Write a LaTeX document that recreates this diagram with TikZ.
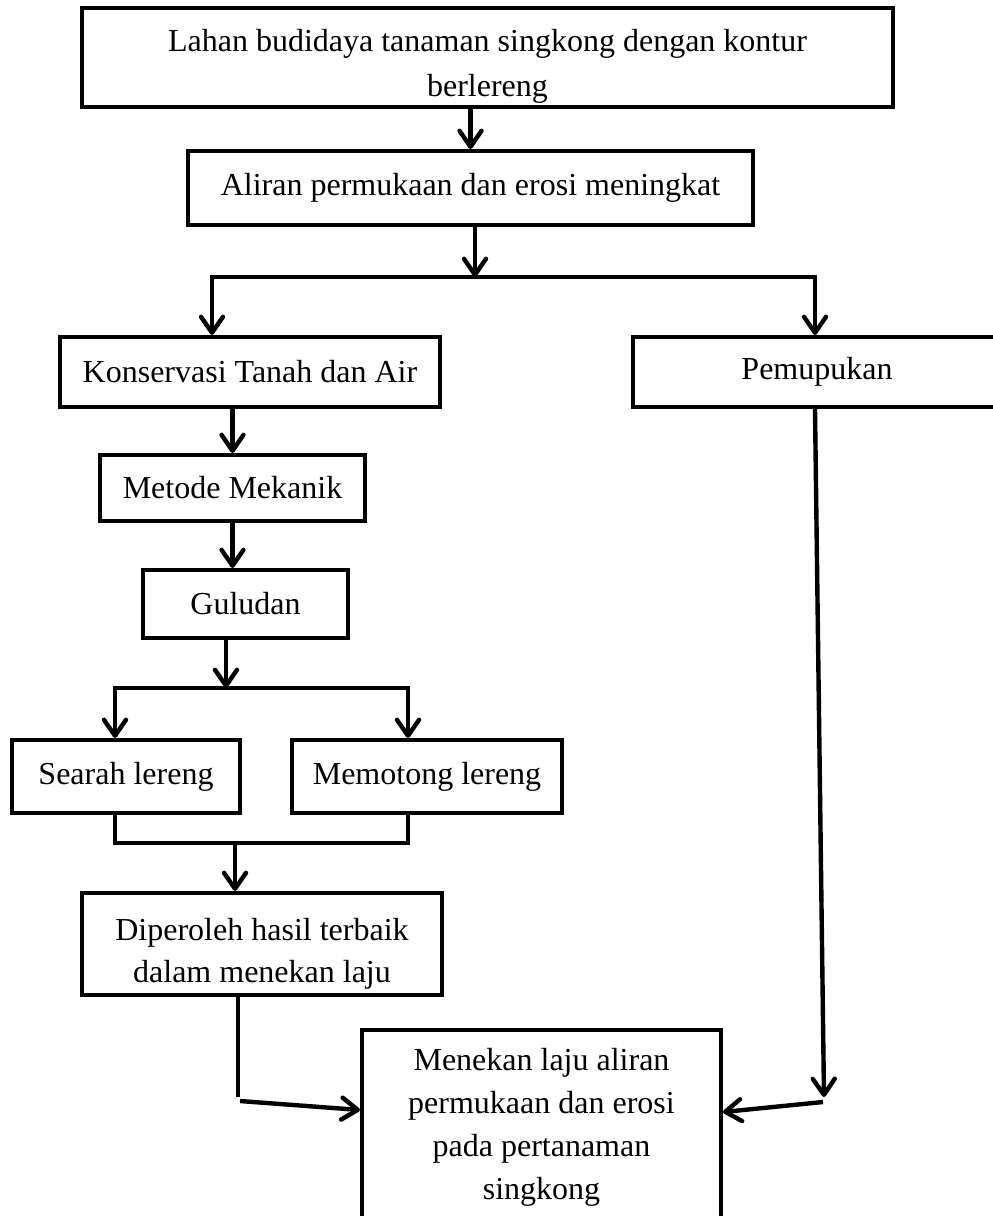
\documentclass[tikz,border=0pt]{standalone}
\usepackage{fontspec}
\setmainfont{Liberation Serif}
\usetikzlibrary{arrows.meta}

\begin{document}
\begin{tikzpicture}[x=0.5pt, y=-0.5pt,
    kotak/.style={draw, line width=2pt, inner sep=0pt, align=center, font=\fontsize{16}{21}\selectfont},
    garis/.style={line width=2.2pt},
    >={Straight Barb[length=8pt, width=11pt, round]}]
    \useasboundingbox (0,0) rectangle (992,1216);

    % kotak
    \node [kotak, minimum width=405.5pt, minimum height=49.5pt] (lahan) at (487.5, 57.5) {\rule{0pt}{20pt}Lahan budidaya tanaman singkong dengan kontur\\[1.5pt]berlereng};
    \node [kotak, minimum width=282.5pt, minimum height=37pt] (aliran) at (470.5, 188) {Aliran permukaan dan erosi meningkat};
    \node [kotak, minimum width=190pt, minimum height=35pt] (konservasi) at (250, 372) {Konservasi Tanah dan Air};
    \node [kotak, minimum width=184pt, minimum height=35pt] (pemupukan) at (817, 372) {Pemupukan};
    \node [kotak, minimum width=132.5pt, minimum height=33pt] (metode) at (232.5, 488) {Metode Mekanik};
    \node [kotak, minimum width=102.5pt, minimum height=34pt] (guludan) at (245.5, 604) {Guludan};
    \node [kotak, minimum width=114pt, minimum height=36.5pt] (searah) at (126, 776.5) {Searah lereng};
    \node [kotak, minimum width=135pt, minimum height=36.5pt] (memotong) at (427, 776.5) {Memotong lereng};
    \node [kotak, minimum width=180pt, minimum height=51pt] (diperoleh) at (262, 944) {\rule{0pt}{21pt}Diperoleh hasil terbaik\\dalam menekan laju};
    \node [kotak, minimum width=179.5pt, minimum height=97pt] (menekan) at (541.5, 1127) {Menekan laju aliran\\[0.5pt]permukaan dan erosi\\[0.5pt]pada pertanaman\\[0.5pt]singkong};

    % titik cabang
    \coordinate (cabang1) at (475, 277);
    \coordinate (kiri1) at (212, 277);
    \coordinate (kanan1) at (815, 277);
    \coordinate (cabang2) at (226, 688);
    \coordinate (kiri2) at (115, 688);
    \coordinate (kanan2) at (408, 688);
    \coordinate (kiri3) at (115, 843);
    \coordinate (kanan3) at (408, 843);
    \coordinate (gabung) at (235, 843);
    \coordinate (bawahkiri) at (238, 1097);
    \coordinate (belokkiri) at (240, 1101);
    \coordinate (bawahkanan) at (824, 1097);
    \coordinate (belokkanan) at (823, 1102);

    % panah
    \draw [->, garis] (lahan.south -| aliran.north) -- (aliran.north);
    \draw [->, garis] (aliran.south -| cabang1) -- (cabang1);
    \draw [<->, garis] (kiri1 |- konservasi.north) -- (kiri1) -- (kanan1) -- (kanan1 |- pemupukan.north);
    \draw [->, garis] (konservasi.south -| metode.north) -- (metode.north);
    \draw [->, garis] (metode.south) -- (metode.south |- guludan.north);
    \draw [->, garis] (guludan.south -| cabang2) -- (cabang2);
    \draw [<->, garis] (kiri2 |- searah.north) -- (kiri2) -- (kanan2) -- (kanan2 |- memotong.north);
    \draw [garis] (kiri3 |- searah.south) -- (kiri3) -- (kanan3) -- (kanan3 |- memotong.south);
    \draw [->, garis] (gabung) -- (gabung |- diperoleh.north);

    \draw [garis] (bawahkiri |- diperoleh.south) -- (bawahkiri);
    \draw [->, garis] (belokkiri) -- ([yshift=8.5pt]menekan.west);
    \draw [->, garis] (pemupukan.south -| 815, 0) -- (bawahkanan);
    \draw [->, garis] (belokkanan) -- ([yshift=7.5pt]menekan.east);
\end{tikzpicture}
\end{document}
